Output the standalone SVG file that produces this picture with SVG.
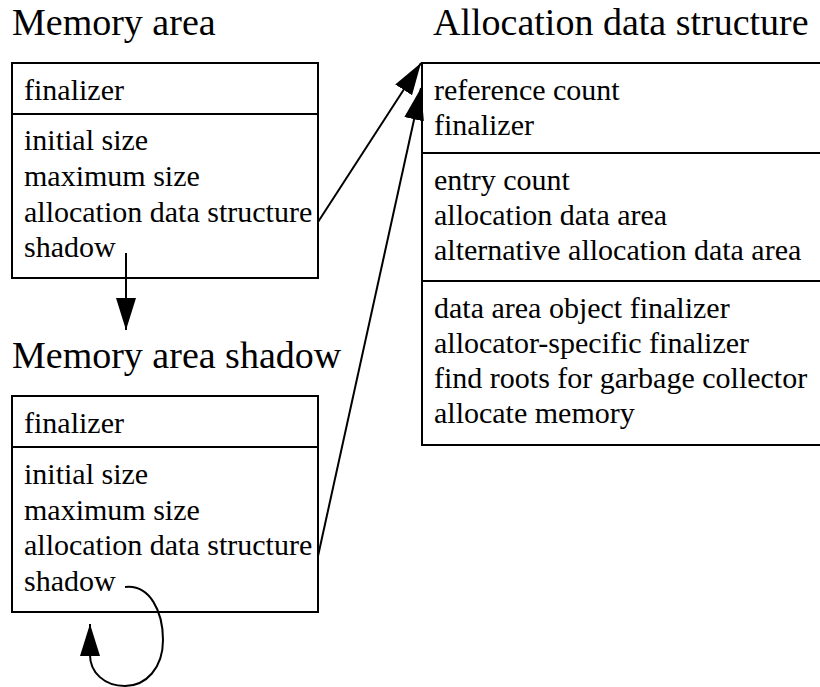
<svg xmlns="http://www.w3.org/2000/svg" width="820" height="687" viewBox="0 0 820 687">
<style>
text{font-family:'Liberation Serif','Times New Roman',Tinos,'Nimbus Roman',Times,serif;fill:#000}
.title{font-size:38px}
.t{font-size:30px}
.box{fill:#fff;stroke:#000;stroke-width:2}
.div{stroke:#000;stroke-width:2}
.conn{fill:none;stroke:#000;stroke-width:2}
</style>
<defs>
<marker id="ah" markerUnits="userSpaceOnUse" markerWidth="34" markerHeight="22" refX="32" refY="10" orient="auto">
<path d="M0,0 L32,10 L0,20 Z" fill="#000"/>
</marker>
</defs>
<rect width="820" height="687" fill="#fff"/>
<g id="memory-area" font-family="Liberation Serif">
<text class="title" x="12" y="35">Memory area</text>
<rect class="box" x="12" y="63" width="306" height="215"/>
<line class="div" x1="12" y1="114" x2="318" y2="114"/>
<text class="t" x="24" y="100">finalizer</text>
<text class="t" x="24" y="150">initial size</text>
<text class="t" x="24" y="186">maximum size</text>
<text class="t" x="24" y="222">allocation data structure</text>
<text class="t" x="24" y="257">shadow</text>
</g>
<g id="memory-area-shadow" font-family="Liberation Serif">
<text class="title" x="12" y="368">Memory area shadow</text>
<rect class="box" x="12" y="396" width="306" height="216"/>
<line class="div" x1="12" y1="447" x2="318" y2="447"/>
<text class="t" x="24" y="433">finalizer</text>
<text class="t" x="24" y="484">initial size</text>
<text class="t" x="24" y="520">maximum size</text>
<text class="t" x="24" y="555">allocation data structure</text>
<text class="t" x="24" y="591">shadow</text>
</g>
<g id="allocation-data-structure" font-family="Liberation Serif">
<text class="title" x="433" y="35">Allocation data structure</text>
<rect class="box" x="422" y="63" width="400" height="382"/>
<line class="div" x1="422" y1="153" x2="820" y2="153"/>
<line class="div" x1="422" y1="281" x2="820" y2="281"/>
<text class="t" x="434" y="100">reference count</text>
<text class="t" x="434" y="135">finalizer</text>
<text class="t" x="434" y="190">entry count</text>
<text class="t" x="434" y="225">allocation data area</text>
<text class="t" x="434" y="260">alternative allocation data area</text>
<text class="t" x="434" y="318">data area object finalizer</text>
<text class="t" x="434" y="353">allocator-specific finalizer</text>
<text class="t" x="434" y="388">find roots for garbage collector</text>
<text class="t" x="434" y="423">allocate memory</text>
</g>
<g id="connectors">
<line class="conn" x1="126" y1="253" x2="126" y2="330" marker-end="url(#ah)"/>
<line class="conn" x1="318" y1="222" x2="421" y2="63" marker-end="url(#ah)"/>
<line class="conn" x1="318" y1="556" x2="421" y2="88" marker-end="url(#ah)"/>
<path class="conn" d="M125,587 C150,584 163,612 163,640 C163,668 146,686 125,686 C104,686 90,672 90,655 L90,624" marker-end="url(#ah)"/>
</g>
</svg>
